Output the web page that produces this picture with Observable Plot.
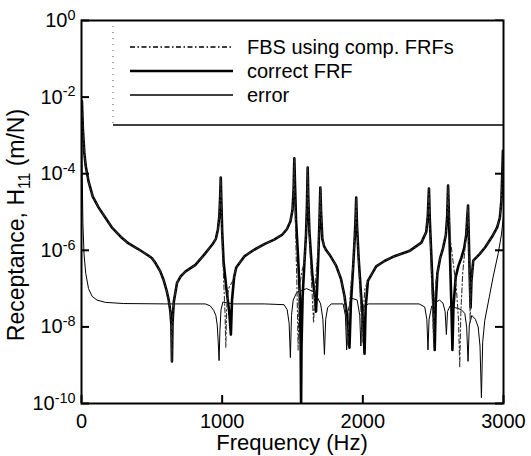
<!DOCTYPE html>
<html>
<head>
<meta charset="utf-8">
<script src="https://cdn.jsdelivr.net/npm/d3@7"></script>
<script src="https://cdn.jsdelivr.net/npm/@observablehq/plot@0.6"></script>
<style>
  html, body { margin: 0; padding: 0; background: #fff; }
  svg { display: block; }
</style>
</head>
<body>
<div id="chart"></div>
<script>
// ---- tick values ----
const xTicks = [0, 1000, 2000, 3000];
const yTickExponents = [0, -2, -4, -6, -8, -10];
const seriesNames = ["FBS using comp. FRFs", "correct FRF", "error"];
const xTitle = "Frequency (Hz)";

// ---- series: [frequency Hz, log10 receptance (m/N)] ----
const correctFRF = [
  [3,-2.1],[6,-2.45],[10,-2.85],[20,-3.45],[30,-3.8],[50,-4.2],[80,-4.6],[121,-4.88],[170,-5.15],[215,-5.4],
  [280,-5.65],[335,-5.82],[400,-5.96],[455,-6.09],[500,-6.2],[527,-6.34],[560,-6.55],[585,-6.79],[605,-7.05],
  [620,-7.3],[632,-7.6],[639,-7.95],[643,-8.9],[647,-7.9],[656,-7.35],[679,-6.85],[705,-6.68],[740,-6.55],
  [810,-6.38],[871,-6.12],[930,-5.85],[955,-5.7],[970,-5.45],[980,-5.1],[986,-4.6],[990,-4.1],[994,-4.7],
  [1000,-5.5],[1010,-6.3],[1030,-7.0],[1050,-7.6],[1062,-8.2],[1070,-7.3],[1085,-6.7],[1100,-6.45],[1160,-6.15],
  [1230,-5.98],[1300,-5.84],[1370,-5.72],[1425,-5.6],[1460,-5.45],[1485,-5.25],[1500,-4.95],[1508,-4.4],
  [1513,-3.6],[1518,-4.3],[1525,-5.2],[1540,-6.2],[1552,-7.2],[1558,-8.5],[1561,-10],[1564,-8.5],[1572,-7.2],
  [1585,-6.3],[1596,-5.6],[1603,-4.8],[1608,-3.84],[1612,-4.6],[1620,-5.5],[1640,-6.6],[1655,-7.1],[1667,-7.6],
  [1675,-7.0],[1685,-6.0],[1692,-5.2],[1698,-4.36],[1703,-5.0],[1712,-5.7],[1725,-5.9],[1740,-6.0],[1770,-6.15],
  [1810,-6.4],[1845,-6.75],[1870,-7.2],[1890,-7.8],[1905,-8.54],[1915,-7.4],[1930,-6.5],[1942,-5.7],[1948,-5.2],
  [1953,-4.62],[1958,-5.3],[1970,-6.2],[1990,-7.3],[2005,-8.0],[2012,-8.7],[2020,-7.5],[2036,-6.8],[2095,-6.42],
  [2154,-6.28],[2214,-6.17],[2330,-6.02],[2416,-5.8],[2451,-5.52],[2462,-5.1],[2470,-4.39],[2476,-5.2],[2490,-6.4],
  [2503,-7.6],[2511,-8.6],[2518,-7.4],[2530,-6.6],[2550,-6.2],[2570,-5.95],[2590,-5.6],[2600,-5.1],[2606,-4.31],
  [2612,-5.1],[2620,-6.2],[2630,-7.5],[2637,-8.6],[2644,-7.5],[2660,-6.7],[2680,-6.4],[2700,-6.2],[2720,-5.95],
  [2735,-5.6],[2743,-5.1],[2748,-4.83],[2753,-5.6],[2760,-6.7],[2766,-7.5],[2772,-6.8],[2785,-6.27],[2830,-6.1],
  [2870,-5.92],[2926,-5.6],[2955,-5.4],[2974,-5.15],[2985,-4.7],[2992,-3.9],[2996,-3.4],[3000,-4.0]
];

const fbsCompFRF = [
  [3,-2.1],[6,-2.45],[10,-2.85],[20,-3.45],[30,-3.8],[50,-4.2],[80,-4.6],[121,-4.88],[170,-5.15],[215,-5.4],
  [280,-5.65],[335,-5.82],[400,-5.96],[455,-6.09],[500,-6.2],[527,-6.34],[560,-6.55],[585,-6.79],[605,-7.05],
  [620,-7.3],[632,-7.6],[639,-7.95],[642,-8.9],[646,-7.9],[656,-7.35],[679,-6.85],[705,-6.68],[740,-6.55],
  [810,-6.38],[871,-6.12],[930,-5.85],[955,-5.7],[970,-5.45],[980,-5.1],[986,-4.6],[990,-4.1],[994,-4.9],
  [1003,-6.0],[1013,-7.0],[1020,-7.6],[1026,-8.54],[1032,-7.5],[1045,-7.0],[1060,-6.9],[1075,-6.8],[1085,-6.7],
  [1100,-6.45],[1160,-6.15],[1230,-5.98],[1300,-5.84],[1370,-5.72],[1425,-5.6],[1460,-5.45],[1485,-5.25],
  [1500,-4.95],[1508,-4.4],[1513,-3.6],[1517,-4.5],[1524,-5.8],[1532,-7.0],[1540,-8.6],[1547,-7.3],[1556,-6.8],
  [1570,-6.5],[1585,-6.3],[1596,-5.6],[1603,-4.8],[1608,-3.84],[1612,-4.6],[1620,-5.6],[1635,-6.8],[1650,-7.9],
  [1660,-7.0],[1672,-6.4],[1685,-5.9],[1692,-5.2],[1698,-4.36],[1703,-5.0],[1712,-5.7],[1725,-5.9],[1740,-6.0],
  [1770,-6.15],[1810,-6.4],[1845,-6.75],[1870,-7.2],[1885,-7.9],[1893,-8.5],[1902,-7.6],[1915,-6.9],[1930,-6.4],
  [1942,-5.7],[1948,-5.2],[1953,-4.62],[1958,-5.3],[1970,-6.3],[1985,-7.4],[1995,-8.4],[2003,-7.6],[2015,-7.0],
  [2036,-6.8],[2095,-6.42],[2154,-6.28],[2214,-6.17],[2330,-6.02],[2416,-5.8],[2451,-5.52],[2462,-5.1],
  [2470,-4.39],[2476,-5.3],[2488,-6.6],[2496,-7.5],[2502,-8.3],[2510,-7.3],[2520,-6.8],[2530,-6.6],[2550,-6.2],
  [2570,-5.95],[2590,-5.6],[2600,-5.1],[2606,-4.31],[2612,-5.0],[2625,-5.8],[2645,-6.4],[2665,-7.0],[2680,-7.8],
  [2689,-9.06],[2697,-7.6],[2710,-6.6],[2725,-6.0],[2737,-5.5],[2744,-5.0],[2748,-4.83],[2753,-5.7],[2759,-6.9],
  [2763,-7.9],[2769,-6.9],[2785,-6.27],[2830,-6.1],[2870,-5.92],[2926,-5.6],[2955,-5.4],[2974,-5.15],[2985,-4.7],
  [2992,-3.9],[2996,-3.4],[3000,-4.0]
];

const errorFRF = [
  [2,-2.6],[5,-4.0],[10,-5.3],[18,-6.1],[30,-6.6],[50,-7.0],[75,-7.2],[110,-7.3],[170,-7.36],[300,-7.39],
  [600,-7.4],[880,-7.4],[915,-7.45],[940,-7.57],[955,-7.7],[965,-7.95],[972,-8.4],[978,-8.88],[984,-8.1],
  [992,-7.55],[1005,-7.35],[1040,-7.38],[1080,-7.4],[1300,-7.4],[1440,-7.42],[1462,-7.55],[1476,-7.9],[1485,-8.8],
  [1493,-7.7],[1505,-7.3],[1530,-7.1],[1600,-7.0],[1660,-7.1],[1700,-7.4],[1716,-7.8],[1727,-8.72],[1736,-7.8],
  [1750,-7.5],[1775,-7.4],[1860,-7.4],[1876,-7.7],[1885,-8.6],[1893,-7.6],[1920,-7.25],[1960,-7.3],[1978,-7.7],
  [1986,-8.5],[1994,-7.7],[2010,-7.45],[2040,-7.4],[2400,-7.4],[2440,-7.48],[2455,-7.8],[2463,-8.6],[2471,-7.8],
  [2490,-7.45],[2520,-7.35],[2546,-7.3],[2570,-7.38],[2585,-7.6],[2594,-8.2],[2602,-7.6],[2620,-7.45],[2660,-7.5],
  [2700,-7.55],[2725,-7.65],[2738,-8.0],[2748,-8.9],[2757,-7.95],[2775,-7.7],[2800,-7.8],[2820,-8.0],[2833,-8.5],
  [2843,-9.85],[2852,-8.4],[2867,-7.83],[2900,-7.2],[2926,-6.7],[2962,-6.09],[2985,-5.6],[3000,-5.1]
];

// ---- build tables for Plot ----
const toRows = (pairs) => pairs.map(([f, e]) => ({f, v: Math.pow(10, e)}));
const yTicks = yTickExponents.map(e => Math.pow(10, e));

const FONT = "'Liberation Sans', Arial, Helvetica, sans-serif";
const W = 531, H = 456, ML = 81, MR = 28, MT = 20, MB = 53;
const innerW = W - ML - MR, innerH = H - MT - MB;
const TICK = 8;

const plot = Plot.plot({
  width: W, height: H,
  marginLeft: ML, marginRight: MR, marginTop: MT, marginBottom: MB,
  style: {fontFamily: FONT, fontSize: "20px", color: "#000", background: "#fff", overflow: "visible"},
  x: {domain: [0, 3000]},
  y: {type: "log", domain: [1e-10, 1]},
  marks: [
    Plot.line(toRows(errorFRF), {x: "f", y: "v", stroke: "#000", strokeWidth: 1, clip: true}),
    Plot.line(toRows(correctFRF), {x: "f", y: "v", stroke: "#000", strokeWidth: 2.6, clip: true}),
    Plot.line(toRows(fbsCompFRF), {x: "f", y: "v", stroke: "#333", strokeWidth: 1.1, strokeDasharray: "5,2.5,1.5,2.5", clip: true}),
    Plot.tickY(yTicks, {y: d => d, insetRight: innerW - TICK, stroke: "#000", strokeWidth: 2}),
    Plot.tickY(yTicks, {y: d => d, insetLeft: innerW - TICK, stroke: "#000", strokeWidth: 2}),
    Plot.tickX(xTicks, {x: d => d, insetTop: innerH - TICK, stroke: "#000", strokeWidth: 2}),
    Plot.axisY({ticks: yTicks, tickSize: 0, tickPadding: 6, label: null, fontSize: 20,
      tickFormat: d => "10^" + Math.round(Math.log10(d))}),
    Plot.axisX({ticks: xTicks, tickSize: 0, tickPadding: 10, label: null, fontSize: 20,
      tickFormat: d => String(d)}),
    Plot.frame({stroke: "#000", strokeWidth: 2})
  ]
});

document.getElementById("chart").appendChild(plot);

const svg = d3.select(plot);

// superscript exponents on the y tick labels
svg.selectAll("text").each(function () {
  const m = /^10\^(-?\d+)$/.exec(this.textContent);
  if (m) {
    const s = d3.select(this);
    s.text(null);
    s.append("tspan").text("10");
    s.append("tspan").attr("dy", "-0.5em").attr("font-size", "0.72em").text(m[1]);
  }
});

// legend inside the plot (top right)
const lg = svg.append("g").attr("font-family", FONT).attr("font-size", 20).attr("text-anchor", "start");
const LX0 = 113, LX1 = W - MR, LY0 = MT, LY1 = 125;
lg.append("rect").attr("x", LX0).attr("y", LY0).attr("width", LX1 - LX0).attr("height", LY1 - LY0)
  .attr("fill", "#fff").attr("stroke", "none");
lg.append("line").attr("x1", LX0).attr("x2", LX1).attr("y1", LY1).attr("y2", LY1)
  .attr("stroke", "#000").attr("stroke-width", 1.5);
lg.append("line").attr("x1", LX0).attr("x2", LX0).attr("y1", LY0).attr("y2", LY1)
  .attr("stroke", "#555").attr("stroke-width", 1).attr("stroke-dasharray", "1,5");
const rowsY = [47, 71, 95];
const styles = [
  {w: 1.3, dash: "5,2.5,1.5,2.5", c: "#000"},
  {w: 2.6, dash: null, c: "#000"},
  {w: 1.3, dash: null, c: "#000"}
];
seriesNames.forEach((name, i) => {
  lg.append("line").attr("x1", 130).attr("x2", 233).attr("y1", rowsY[i]).attr("y2", rowsY[i])
    .attr("stroke", styles[i].c).attr("stroke-width", styles[i].w)
    .attr("stroke-dasharray", styles[i].dash);
  lg.append("text").attr("x", 247).attr("y", rowsY[i]).attr("dy", "0.36em")
    .attr("text-anchor", "start").text(name);
});
svg.selectAll("[aria-label=frame]").raise();

// axis titles
svg.append("text").attr("x", ML + innerW / 2).attr("y", 450).attr("text-anchor", "middle")
  .attr("font-family", FONT).attr("font-size", 22).text(xTitle);
const yt = svg.append("text").attr("transform", "translate(16,225) rotate(-90)")
  .attr("text-anchor", "middle").attr("font-family", FONT).attr("font-size", 23).attr("dy", "0.35em");
yt.append("tspan").text("Receptance, H");
yt.append("tspan").attr("font-size", "0.68em").attr("dy", "0.35em").text("11");
yt.append("tspan").attr("dy", "-0.25em").text(" (m/N)");
</script>
</body>
</html>
